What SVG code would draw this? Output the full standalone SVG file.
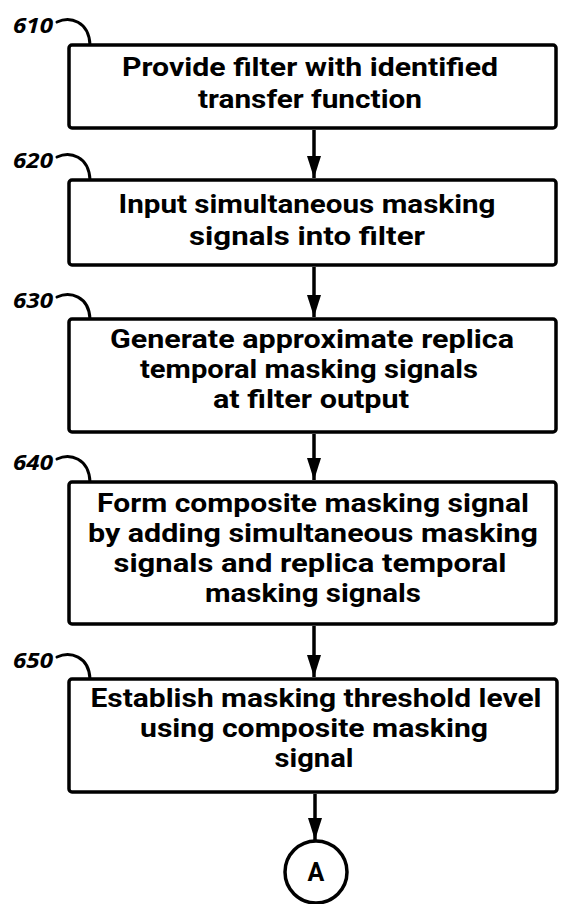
<svg xmlns="http://www.w3.org/2000/svg" width="561" height="904" viewBox="0 0 561 904">
  <style>
    .box { fill: #fff; stroke: #000; stroke-width: 3.5; }
    .step { font-family: Roboto, "Liberation Sans", sans-serif; font-weight: 700; font-size: 25px; fill: #000; text-anchor: middle; }
    .ref { font-family: "Open Sans", "Liberation Sans", sans-serif; font-weight: 700; font-style: italic; font-size: 22px; fill: #000; }
    .lead { fill: none; stroke: #000; stroke-width: 3; stroke-linecap: round; }
    .flow { stroke: #000; stroke-width: 3.5; fill: none; }
  </style>
  <defs>
    <!-- filled arrowhead; tip sits on the line end -->
    <marker id="arrow" markerUnits="userSpaceOnUse" markerWidth="22" markerHeight="14" refX="22" refY="7" orient="auto" viewBox="0 0 22 14">
      <path d="M0,0 L22,7 L0,14 Z" fill="#000"/>
    </marker>
  </defs>
  <rect width="561" height="904" fill="#fff"/>

  <!-- step 610 -->
  <g id="step610">
    <text class="ref" x="13" y="33" textLength="40" lengthAdjust="spacingAndGlyphs">610</text>
    <path class="lead" d="M57,22 C70,16 89,21 90,45"/>
    <rect class="box" x="69" y="45" width="487" height="83" rx="3"/>
    <text class="step" x="310" y="76" textLength="376" lengthAdjust="spacingAndGlyphs">Provide filter with identified</text>
    <text class="step" x="310" y="108" textLength="224" lengthAdjust="spacingAndGlyphs">transfer function</text>
  </g>

  <!-- step 620 -->
  <g id="step620">
    <text class="ref" x="13" y="168" textLength="40" lengthAdjust="spacingAndGlyphs">620</text>
    <path class="lead" d="M57,157 C70,151 89,156 90,180"/>
    <rect class="box" x="69" y="180" width="487" height="85" rx="3"/>
    <text class="step" x="307" y="213" textLength="377" lengthAdjust="spacingAndGlyphs">Input simultaneous masking</text>
    <text class="step" x="307" y="245" textLength="236" lengthAdjust="spacingAndGlyphs">signals into filter</text>
  </g>

  <!-- step 630 -->
  <g id="step630">
    <text class="ref" x="13" y="308" textLength="40" lengthAdjust="spacingAndGlyphs">630</text>
    <path class="lead" d="M57,297 C70,291 89,296 90,319"/>
    <rect class="box" x="69" y="319" width="487" height="113" rx="3"/>
    <text class="step" x="312" y="348" textLength="404" lengthAdjust="spacingAndGlyphs">Generate approximate replica</text>
    <text class="step" x="309" y="378" textLength="338" lengthAdjust="spacingAndGlyphs">temporal masking signals</text>
    <text class="step" x="311" y="408" textLength="196" lengthAdjust="spacingAndGlyphs">at filter output</text>
  </g>

  <!-- step 640 -->
  <g id="step640">
    <text class="ref" x="13" y="470" textLength="40" lengthAdjust="spacingAndGlyphs">640</text>
    <path class="lead" d="M57,459 C70,453 89,458 90,482"/>
    <rect class="box" x="69" y="482" width="487" height="142" rx="3"/>
    <text class="step" x="313" y="512" textLength="432" lengthAdjust="spacingAndGlyphs">Form composite masking signal</text>
    <text class="step" x="313" y="542" textLength="450" lengthAdjust="spacingAndGlyphs">by adding simultaneous masking</text>
    <text class="step" x="310" y="572" textLength="393" lengthAdjust="spacingAndGlyphs">signals and replica temporal</text>
    <text class="step" x="313" y="602" textLength="216" lengthAdjust="spacingAndGlyphs">masking signals</text>
  </g>

  <!-- step 650 -->
  <g id="step650">
    <text class="ref" x="13" y="668" textLength="40" lengthAdjust="spacingAndGlyphs">650</text>
    <path class="lead" d="M57,657 C70,651 89,656 90,679"/>
    <rect class="box" x="69" y="679" width="488" height="113" rx="3"/>
    <text class="step" x="316" y="707" textLength="451" lengthAdjust="spacingAndGlyphs">Establish masking threshold level</text>
    <text class="step" x="314" y="737" textLength="348" lengthAdjust="spacingAndGlyphs">using composite masking</text>
    <text class="step" x="314" y="767" textLength="79" lengthAdjust="spacingAndGlyphs">signal</text>
  </g>

  <!-- off-page connector -->
  <g id="connectorA">
    <circle cx="316" cy="872" r="31" fill="#fff" stroke="#000" stroke-width="3.5"/>
    <text class="step" x="316" y="881" font-size="26">A</text>
  </g>

  <!-- flow arrows -->
  <g id="connectors">
    <line class="flow" x1="314" y1="130" x2="314" y2="178" marker-end="url(#arrow)"/>
    <line class="flow" x1="314" y1="267" x2="314" y2="317" marker-end="url(#arrow)"/>
    <line class="flow" x1="314" y1="434" x2="314" y2="480" marker-end="url(#arrow)"/>
    <line class="flow" x1="314" y1="626" x2="314" y2="677" marker-end="url(#arrow)"/>
    <line class="flow" x1="315" y1="794" x2="315" y2="840" marker-end="url(#arrow)"/>
  </g>
</svg>
